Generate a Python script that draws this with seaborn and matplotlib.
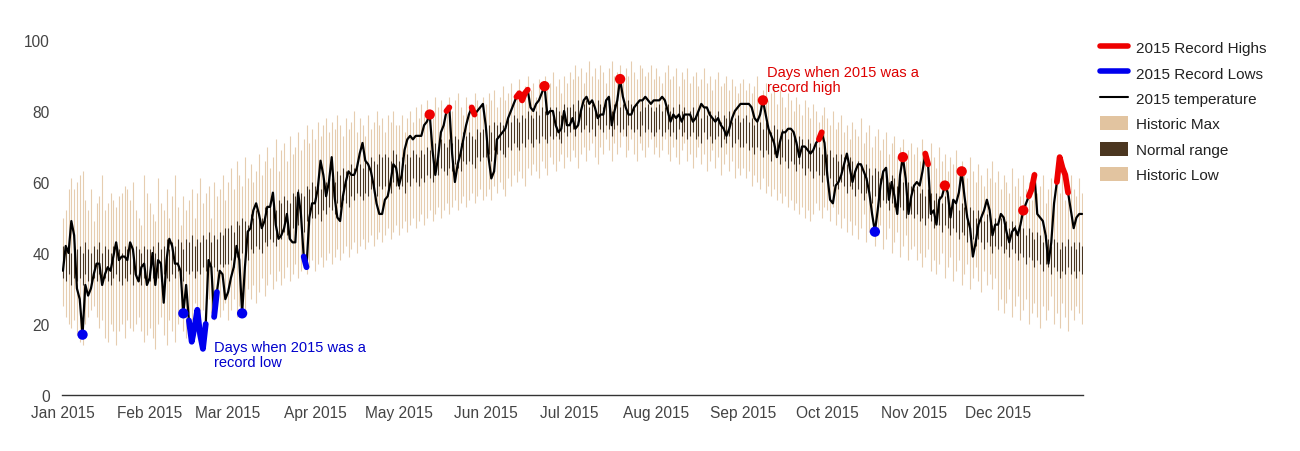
import numpy as np
import pandas as pd
import matplotlib
matplotlib.use("Agg")
import matplotlib.pyplot as plt
import matplotlib.dates as mdates
from matplotlib.lines import Line2D
from matplotlib.patches import Patch
import seaborn as sns

# ---------------- data (one value per day of 2015) -------------
temp_2015 = [
    35, 42, 40, 49, 45, 30, 27, 17, 31, 28, 30, 34, 37, 37, 31, 34, 36, 35, 39, 43, 38, 39, 39, 38, 43, 41, 34, 32, 36, 37, 31,  # Jan
    33, 40, 31, 38, 37, 26, 38, 44, 42, 37, 37, 35, 23, 31, 21, 15, 19, 24, 17, 13, 20, 38, 36, 22, 29, 35, 34, 27,  # Feb
    29, 33, 36, 42, 38, 23, 36, 46, 47, 52, 54, 51, 47, 49, 53, 53, 57, 48, 44, 45, 47, 51, 44, 43, 43, 57, 51, 39, 36, 50, 54,  # Mar
    54, 58, 66, 62, 56, 60, 67, 56, 50, 49, 56, 60, 63, 62, 62, 64, 68, 71, 66, 65, 63, 59, 54, 51, 51, 55, 56, 60, 65, 64,  # Apr
    59, 62, 69, 72, 73, 72, 73, 73, 73, 76, 77, 79, 69, 62, 67, 74, 76, 80, 81, 68, 60, 65, 68, 72, 76, 79, 81, 79, 80, 81, 82,  # May
    76, 67, 61, 63, 72, 73, 74, 75, 78, 80, 82, 84, 85, 83, 85, 86, 81, 80, 82, 83, 85, 87, 79, 80, 80, 76, 74, 75, 80, 76,  # Jun
    76, 78, 75, 76, 80, 83, 84, 82, 83, 81, 78, 79, 79, 83, 84, 76, 80, 83, 89, 84, 81, 79, 79, 81, 82, 83, 83, 84, 83, 82, 83,  # Jul
    83, 83, 84, 83, 80, 77, 79, 78, 79, 77, 79, 79, 79, 77, 78, 80, 82, 81, 81, 79, 78, 77, 78, 76, 75, 73, 75, 78, 80, 81, 82,  # Aug
    82, 82, 82, 81, 78, 77, 79, 83, 79, 75, 73, 71, 67, 71, 74, 74, 75, 75, 74, 71, 67, 70, 70, 69, 68, 69, 71, 72, 74, 71,  # Sep
    62, 55, 54, 59, 60, 62, 65, 68, 64, 60, 63, 65, 65, 63, 61, 57, 51, 46, 52, 59, 63, 64, 55, 60, 56, 51, 62, 67, 61, 51, 56,  # Oct
    59, 60, 59, 63, 68, 65, 51, 52, 48, 55, 56, 59, 57, 50, 55, 54, 57, 63, 56, 50, 47, 39, 43, 48, 50, 52, 55, 52, 45, 48,  # Nov
    48, 51, 50, 46, 43, 46, 47, 45, 48, 52, 54, 56, 58, 62, 51, 50, 49, 45, 37, 43, 54, 60, 67, 64, 62, 57, 52, 47, 50, 51, 51,  # Dec
]

historic_max = [
    50, 52, 58, 61, 58, 60, 62, 63, 55, 52, 58, 49, 54, 56, 62, 52, 54, 57, 55, 53, 56, 57, 59, 58, 55, 60, 52, 50, 48, 62, 57,
    54, 51, 49, 61, 54, 52, 58, 50, 56, 62, 53, 48, 56, 52, 55, 58, 50, 57, 61, 54, 57, 59, 50, 60, 56, 58, 62, 55,
    60, 64, 58, 66, 62, 59, 67, 61, 65, 60, 63, 68, 62, 66, 70, 64, 67, 72, 63, 69, 71, 66, 73, 68, 70, 74, 69, 72, 76, 71, 75,
    72, 77, 73, 76, 78, 74, 77, 75, 79, 76, 73, 78, 75, 77, 80, 74, 78, 76, 73, 79, 75, 77, 80, 76, 78, 74, 79, 77, 80, 76,
    76, 79, 74, 78, 80, 77, 81, 78, 82, 79, 83, 80, 78, 84, 81, 83, 79, 82, 84, 80, 83, 85, 81, 79, 84, 82, 80, 85, 83, 81, 84,
    82, 85, 83, 86, 81, 84, 87, 83, 85, 88, 84, 86, 89, 85, 87, 90, 86, 88, 84, 89, 87, 90, 86, 88, 91, 87, 89, 85, 90, 88,
    91, 89, 93, 90, 92, 88, 91, 94, 90, 92, 89, 93, 91, 88, 92, 94, 90, 91, 93, 89, 92, 90, 94, 91, 89, 93, 92, 90, 91, 93, 89,
    92, 90, 88, 91, 93, 89, 90, 92, 87, 91, 89, 92, 88, 90, 91, 87, 89, 92, 88, 90, 86, 89, 91, 87, 88, 90, 86, 89, 87, 85, 88,
    89, 86, 88, 85, 87, 90, 84, 86, 88, 83, 85, 87, 82, 86, 84, 81, 85, 83, 80, 84, 82, 79, 83, 81, 78, 82, 80, 77, 79, 81,
    78, 76, 80, 75, 77, 79, 74, 76, 72, 77, 75, 73, 78, 71, 74, 76, 70, 73, 75, 69, 72, 74, 68, 71, 73, 67, 70, 72, 66, 69, 71,
    68, 70, 66, 72, 69, 65, 71, 67, 64, 70, 66, 68, 63, 67, 65, 69, 62, 66, 64, 61, 67, 63, 60, 65, 62, 59, 64, 61, 66, 60,
    63, 58, 62, 60, 57, 64, 59, 61, 56, 62, 58, 60, 55, 63, 57, 59, 62, 54, 58, 61, 56, 60, 57, 63, 55, 59, 62, 58, 56, 61, 57,
]

historic_low = [
    25, 22, 20, 19, 21, 17, 15, 14, 20, 22, 24, 25, 22, 19, 21, 16, 15, 20, 18, 14, 18, 20, 16, 21, 19, 18, 20, 22, 18, 15, 17,
    19, 16, 13, 20, 22, 17, 14, 21, 18, 15, 20, 23, 18, 16, 23, 21, 26, 19, 22, 24, 20, 27, 23, 21, 25, 22, 24, 26,
    21, 24, 27, 22, 25, 28, 24, 30, 27, 31, 26, 29, 33, 28, 31, 34, 30, 32, 35, 31, 33, 36, 32, 34, 37, 33, 35, 38, 34, 36, 38,
    35, 37, 39, 36, 38, 40, 37, 39, 41, 38, 40, 42, 39, 41, 43, 40, 42, 44, 41, 43, 45, 42, 44, 46, 43, 45, 47, 44, 46, 48,
    45, 47, 49, 46, 48, 50, 47, 49, 51, 48, 50, 52, 49, 51, 53, 50, 52, 54, 51, 53, 55, 52, 54, 56, 53, 55, 57, 54, 56, 58, 55,
    56, 58, 55, 59, 57, 60, 58, 56, 61, 59, 62, 60, 63, 61, 59, 64, 62, 65, 63, 61, 66, 64, 62, 67, 65, 63, 66, 68, 64, 67,
    66, 69, 67, 64, 68, 70, 66, 69, 71, 67, 65, 70, 68, 72, 69, 66, 71, 68, 70, 73, 67, 69, 72, 68, 66, 71, 69, 67, 70, 72, 68,
    70, 67, 69, 72, 68, 66, 70, 67, 65, 69, 71, 66, 68, 64, 67, 70, 65, 68, 63, 66, 69, 64, 67, 62, 65, 68, 63, 66, 61, 64, 62,
    64, 61, 63, 59, 62, 60, 58, 61, 57, 59, 56, 58, 55, 57, 54, 56, 53, 55, 52, 54, 51, 53, 50, 52, 49, 51, 54, 52, 50, 53,
    52, 49, 53, 48, 51, 47, 50, 46, 49, 45, 48, 44, 47, 51, 43, 46, 49, 42, 45, 48, 41, 44, 47, 40, 43, 46, 39, 42, 45, 38, 41,
    42, 38, 40, 36, 39, 41, 35, 38, 34, 37, 40, 33, 36, 39, 32, 35, 38, 31, 34, 37, 30, 33, 36, 32, 29, 35, 31, 34, 30, 33,
    24, 27, 23, 26, 30, 22, 25, 28, 21, 24, 27, 20, 23, 26, 22, 19, 25, 21, 24, 28, 20, 23, 19, 26, 22, 18, 24, 21, 25, 23, 20,
]

normal_high = [
    42, 41, 43, 40, 42, 41, 42, 40, 43, 41, 40, 42, 41, 43, 40, 42, 41, 40, 42, 43, 41, 40, 42, 41, 43, 40, 42, 41, 40, 42, 41,
    41, 42, 40, 43, 41, 42, 44, 41, 43, 42, 44, 43, 41, 44, 43, 45, 42, 44, 43, 45, 44, 46, 43, 45, 44, 46, 45, 47,
    47, 48, 46, 49, 48, 50, 49, 48, 51, 50, 52, 51, 50, 53, 52, 54, 53, 52, 55, 54, 56, 55, 54, 57, 56, 58, 57, 56, 59, 58, 60,
    59, 60, 58, 61, 60, 62, 61, 60, 63, 62, 64, 63, 62, 65, 64, 66, 65, 64, 66, 65, 67, 66, 65, 68, 67, 68, 67, 66, 69, 68,
    66, 67, 65, 68, 67, 69, 68, 67, 69, 68, 70, 69, 68, 71, 70, 72, 71, 70, 72, 71, 73, 72, 71, 74, 73, 74, 73, 72, 75, 74, 75,
    75, 76, 74, 77, 76, 77, 76, 75, 78, 77, 79, 78, 77, 79, 78, 80, 79, 78, 80, 79, 81, 80, 79, 81, 80, 81, 80, 79, 82, 81,
    81, 82, 80, 83, 81, 82, 83, 81, 82, 80, 83, 82, 81, 83, 82, 80, 82, 83, 81, 82, 80, 83, 82, 81, 82, 80, 83, 81, 82, 81, 80,
    81, 82, 80, 81, 82, 80, 81, 79, 82, 80, 81, 79, 80, 81, 79, 80, 78, 81, 79, 80, 78, 79, 80, 77, 79, 78, 80, 77, 78, 79, 77,
    78, 79, 77, 78, 76, 78, 77, 75, 77, 76, 74, 76, 75, 73, 75, 74, 72, 74, 73, 71, 73, 72, 70, 72, 71, 69, 71, 70, 68, 70,
    68, 69, 67, 68, 66, 68, 67, 65, 67, 66, 64, 66, 65, 63, 65, 64, 62, 64, 63, 61, 63, 62, 60, 62, 61, 59, 61, 60, 58, 60, 59,
    58, 59, 57, 58, 56, 58, 57, 55, 57, 56, 54, 56, 55, 53, 55, 54, 52, 54, 53, 51, 53, 52, 50, 52, 51, 49, 51, 50, 48, 50,
    49, 50, 48, 49, 47, 49, 48, 46, 48, 47, 45, 47, 46, 44, 46, 45, 43, 45, 44, 42, 44, 43, 41, 43, 42, 44, 42, 43, 41, 43, 42,
]

normal_low = [
    33, 32, 34, 31, 33, 32, 33, 31, 34, 32, 31, 33, 32, 34, 31, 33, 32, 31, 33, 34, 32, 31, 33, 32, 34, 31, 33, 32, 31, 33, 32,
    32, 33, 31, 33, 32, 34, 33, 32, 34, 33, 35, 33, 32, 35, 34, 35, 33, 35, 34, 36, 35, 36, 34, 36, 35, 37, 36, 37,
    37, 38, 36, 39, 38, 40, 39, 38, 41, 40, 42, 41, 40, 43, 42, 44, 43, 42, 45, 44, 46, 45, 44, 47, 46, 48, 47, 46, 49, 48, 50,
    50, 51, 49, 52, 51, 53, 52, 51, 54, 53, 55, 54, 53, 56, 55, 57, 56, 55, 57, 56, 58, 57, 56, 59, 58, 59, 58, 57, 60, 59,
    58, 59, 57, 60, 59, 61, 60, 59, 61, 60, 62, 61, 60, 63, 62, 64, 63, 62, 64, 63, 65, 64, 63, 66, 65, 66, 65, 64, 67, 66, 67,
    67, 68, 66, 69, 68, 69, 68, 67, 70, 69, 71, 70, 69, 71, 70, 72, 71, 70, 72, 71, 73, 72, 71, 73, 72, 73, 72, 71, 74, 73,
    74, 75, 73, 76, 74, 75, 76, 74, 75, 73, 76, 75, 74, 76, 75, 73, 75, 76, 74, 75, 73, 76, 75, 74, 75, 73, 76, 74, 75, 74, 73,
    74, 75, 73, 74, 75, 73, 74, 72, 75, 73, 74, 72, 73, 74, 72, 73, 71, 74, 72, 73, 71, 72, 73, 70, 72, 71, 73, 70, 71, 72, 70,
    70, 71, 69, 70, 68, 70, 69, 67, 69, 68, 66, 68, 67, 65, 67, 66, 64, 66, 65, 63, 65, 64, 62, 64, 63, 61, 63, 62, 60, 62,
    60, 61, 59, 60, 58, 60, 59, 57, 59, 58, 56, 58, 57, 55, 57, 56, 54, 56, 55, 53, 55, 54, 52, 54, 53, 51, 53, 52, 50, 52, 51,
    50, 51, 49, 50, 48, 50, 49, 47, 49, 48, 46, 48, 47, 45, 47, 46, 44, 46, 45, 43, 45, 44, 42, 44, 43, 41, 43, 42, 40, 42,
    41, 42, 40, 41, 39, 41, 40, 38, 40, 39, 37, 39, 38, 36, 38, 37, 35, 37, 36, 34, 36, 35, 33, 35, 34, 36, 34, 35, 33, 35, 34,
]

# day-of-year indices (0 = Jan 1) on which 2015 set a record
record_high_days = [131, 137, 138, 146, 147, 162, 163, 164, 165, 166, 172, 199, 250, 270, 271,
                    300, 308, 309, 315, 321, 343, 345, 346, 347, 355, 356, 357, 358, 359]
record_low_days = [7, 43, 45, 46, 47, 48, 49, 50, 51, 54, 55, 64, 86, 87, 290]

y_ticks = [0, 20, 40, 60, 80, 100]
legend_labels = ["2015 Record Highs", "2015 Record Lows", "2015 temperature",
                 "Historic Max", "Normal range", "Historic Low"]
note_high = "Days when 2015 was a\nrecord high"
note_low = "Days when 2015 was a\nrecord low"

for name, s in [("temp", temp_2015), ("hmax", historic_max), ("hlow", historic_low),
                ("nhigh", normal_high), ("nlow", normal_low)]:
    assert len(s) == 365, (name, len(s))

# ---------------- styling ----------------
TAN = "#e6cdb0"
TAN_LEG = "#e2c4a0"
DARK = "#4b3620"
RED = "#ee0000"
BLUE = "#0000ee"
TEXT = "#444444"

sns.set_theme(style="white")
plt.rcParams["font.family"] = ["Liberation Sans", "DejaVu Sans"]

dates = pd.date_range("2015-01-01", "2015-12-31", freq="D")
df = pd.DataFrame({"date": dates, "temp": temp_2015, "hmax": historic_max,
                   "hlow": historic_low, "nhigh": normal_high, "nlow": normal_low})

W, H = 1300, 452
fig = plt.figure(figsize=(W / 100, H / 100), dpi=100)
ax = fig.add_axes([62 / W, 1 - 396 / H, (1083 - 62) / W, (396 - 41) / H])

# historic range and normal range bars
ax.vlines(df["date"], df["hlow"], df["hmax"], color=TAN, lw=0.8, zorder=1)
ax.vlines(df["date"], df["nlow"], df["nhigh"], color=DARK, lw=0.8, zorder=2)

# 2015 temperature
sns.lineplot(data=df, x="date", y="temp", color="black", lw=1.6, ax=ax, zorder=3)


def runs(days):
    out, cur = [], [days[0]]
    for d in days[1:]:
        if d == cur[-1] + 1:
            cur.append(d)
        else:
            out.append(cur)
            cur = [d]
    out.append(cur)
    return out


for days, col in [(record_high_days, RED), (record_low_days, BLUE)]:
    for r in runs(days):
        sub = df.iloc[r]
        if len(r) == 1:
            sns.scatterplot(data=sub, x="date", y="temp", color=col, s=55,
                            edgecolor="none", ax=ax, zorder=5)
        else:
            sns.lineplot(data=sub, x="date", y="temp", color=col, lw=4.2,
                         ax=ax, zorder=4)

ax.set_ylim(0, 100)
ax.set_xlim(dates[0] - pd.Timedelta(hours=8), dates[-1] + pd.Timedelta(hours=8))
ax.set_yticks(y_ticks)
ax.set_yticklabels([str(v) for v in y_ticks])
ax.xaxis.set_major_locator(mdates.MonthLocator())
ax.xaxis.set_major_formatter(mdates.DateFormatter("%b %Y"))
ax.tick_params(axis="both", length=0, labelsize=11.2, colors=TEXT)
ax.tick_params(axis="y", pad=9)
ax.tick_params(axis="x", pad=7)
ax.set_xlabel("")
ax.set_ylabel("")
for side in ["top", "right", "left"]:
    ax.spines[side].set_visible(False)
ax.spines["bottom"].set_color("#333333")
ax.spines["bottom"].set_linewidth(1.0)
ax.grid(False)

# annotations
ax.text(pd.Timestamp("2015-09-09 10:00"), 92.9, note_high, color="#dd0000", fontsize=10.5,
        va="top", ha="left", linespacing=1.1)
ax.text(pd.Timestamp("2015-02-23 19:00"), 15.4, note_low, color="#0000cc", fontsize=10.5,
        va="top", ha="left", linespacing=1.1)

# legend
handles = [Line2D([], [], color=RED, lw=4),
           Line2D([], [], color=BLUE, lw=4),
           Line2D([], [], color="black", lw=1.5),
           Patch(facecolor=TAN_LEG, edgecolor="none"),
           Patch(facecolor=DARK, edgecolor="none"),
           Patch(facecolor=TAN_LEG, edgecolor="none")]
fig.legend(handles, legend_labels, loc="upper left", bbox_to_anchor=(1100 / W, 1 - 41 / H),
           frameon=False, fontsize=11, handlelength=1.85, handleheight=1.0,
           handletextpad=0.5, labelspacing=0.68, borderaxespad=0, borderpad=0,
           labelcolor="#222222")

fig.savefig("out.png", dpi=100)
